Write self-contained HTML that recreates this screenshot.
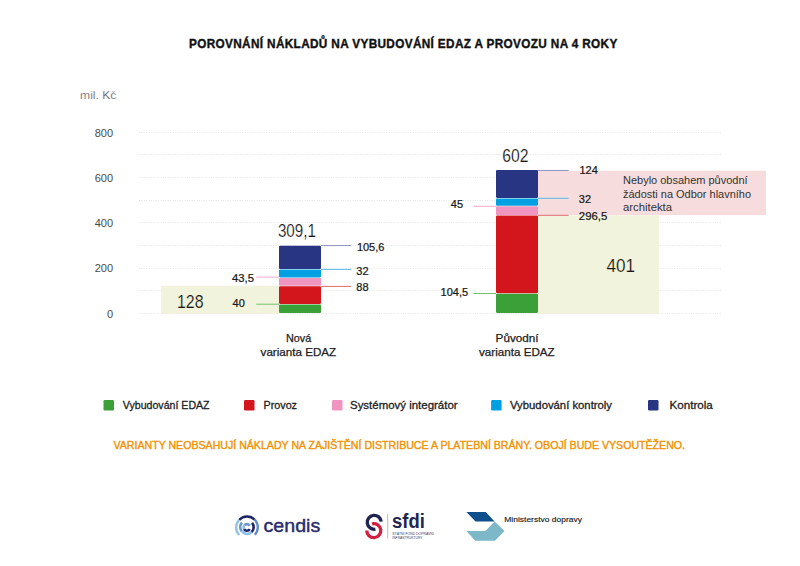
<!DOCTYPE html>
<html lang="cs">
<head>
<meta charset="utf-8">
<title>Porovnání nákladů na vybudování EDAZ a provozu na 4 roky</title>
<style>
html,body{margin:0;padding:0;background:#fff;}
body{width:800px;height:566px;overflow:hidden;}
svg{display:block;}
text{font-family:"Liberation Sans",Arial,sans-serif;}
.b{font-weight:bold;}
</style>
</head>
<body>
<svg width="800" height="566" viewBox="0 0 800 566">
<rect x="0" y="0" width="800" height="566" fill="#fff"/>

<!-- title -->
<text x="189" y="48.0" font-size="13.6" class="b" fill="#111" stroke="#111" stroke-width="0.4" letter-spacing="0.4" textLength="428.6" lengthAdjust="spacingAndGlyphs">POROVNÁNÍ NÁKLADŮ NA VYBUDOVÁNÍ EDAZ A PROVOZU NA 4 ROKY</text>

<!-- unit -->
<text x="80.1" y="98.9" font-size="10.2" fill="#3c3c3c" stroke="#fff" stroke-width="0.25" textLength="36.2" lengthAdjust="spacingAndGlyphs">mil. Kč</text>

<!-- gridlines -->
<g stroke="#e6e6e6" stroke-width="1" stroke-dasharray="1 1.4">
<line x1="139" y1="132.5" x2="721" y2="132.5"/>
<line x1="139" y1="154.5" x2="721" y2="154.5"/>
<line x1="139" y1="177.5" x2="721" y2="177.5"/>
<line x1="139" y1="200.5" x2="721" y2="200.5"/>
<line x1="139" y1="222.5" x2="721" y2="222.5"/>
<line x1="139" y1="245.5" x2="721" y2="245.5"/>
<line x1="139" y1="268.5" x2="721" y2="268.5"/>
<line x1="139" y1="290.5" x2="721" y2="290.5"/>
<line x1="139" y1="313.5" x2="721" y2="313.5"/>
</g>

<!-- y labels -->
<g font-size="11" fill="#4a4a4a" text-anchor="end">
<text x="113" y="136.7">800</text>
<text x="113" y="181.9">600</text>
<text x="113" y="227.1">400</text>
<text x="113" y="272.4">200</text>
<text x="113" y="317.6">0</text>
</g>

<!-- background boxes -->
<rect x="161" y="285.7" width="118" height="28.3" fill="#f1f3dc"/>
<rect x="538" y="215.3" width="121" height="98.7" fill="#f1f3dc"/>
<rect x="538" y="170.7" width="228" height="44.4" fill="#f6dcdc"/>

<!-- bar 1 -->
<g>
<rect x="279" y="245.8" width="42" height="23.3" rx="1.1" fill="#283583"/>
<rect x="279" y="269.6" width="42" height="7.8" rx="1.1" fill="#00a0e3"/>
<rect x="279" y="277.9" width="42" height="7.9" rx="1.1" fill="#ef95c0"/>
<rect x="279" y="286.3" width="42" height="17.6" rx="1.1" fill="#d2161c"/>
<rect x="279" y="304.4" width="42" height="8.7" rx="1.1" fill="#3aa037"/>
</g>
<!-- bar 2 -->
<g>
<rect x="496" y="170" width="42" height="27.9" rx="1.1" fill="#283583"/>
<rect x="496" y="198.4" width="42" height="7.4" rx="1.1" fill="#00a0e3"/>
<rect x="496" y="206.3" width="42" height="8.7" rx="1.1" fill="#ef95c0"/>
<rect x="496" y="215.5" width="42" height="77.7" rx="1.1" fill="#d2161c"/>
<rect x="496" y="293.7" width="42" height="19.2" rx="1.1" fill="#3aa037"/>
</g>

<!-- leader lines -->
<g stroke-width="1">
<line x1="321" y1="245.6" x2="351" y2="245.6" stroke="#8c91c0"/>
<line x1="321" y1="269.4" x2="351" y2="269.4" stroke="#5cbbe9"/>
<line x1="321" y1="286.4" x2="351" y2="286.4" stroke="#e26c6e"/>
<line x1="256.2" y1="277.1" x2="279" y2="277.1" stroke="#f2a9cb"/>
<line x1="256.2" y1="304.2" x2="279" y2="304.2" stroke="#74c171"/>
<line x1="538" y1="170.45" x2="568.6" y2="170.45" stroke="#8c91c0"/>
<line x1="538" y1="198.3" x2="568.6" y2="198.3" stroke="#5cbbe9"/>
<line x1="538" y1="215.3" x2="568.6" y2="215.3" stroke="#e26c6e"/>
<line x1="473.5" y1="206.3" x2="496" y2="206.3" stroke="#f2a9cb"/>
<line x1="473.5" y1="293.5" x2="496" y2="293.5" stroke="#74c171"/>
</g>

<!-- value labels -->
<g font-size="11" fill="#161616" stroke="#161616" stroke-width="0.22">
<text x="356.9" y="250.7" textLength="27.5" lengthAdjust="spacingAndGlyphs">105,6</text>
<text x="356.3" y="274.5">32</text>
<text x="356.3" y="290.8">88</text>
<text x="232" y="282" textLength="21.9" lengthAdjust="spacingAndGlyphs">43,5</text>
<text x="232.6" y="307.4">40</text>
<text x="579.4" y="173.5">124</text>
<text x="578.8" y="202.8">32</text>
<text x="578.8" y="220.1" textLength="28.5" lengthAdjust="spacingAndGlyphs">296,5</text>
<text x="450.8" y="208">45</text>
<text x="440.6" y="296" textLength="27.6" lengthAdjust="spacingAndGlyphs">104,5</text>
</g>

<!-- totals / big numbers -->
<g font-size="17.5" fill="#151515" stroke-width="0.18">
<text x="277.9" y="237" stroke="#fff" textLength="38" lengthAdjust="spacingAndGlyphs">309,1</text>
<text x="502.3" y="161.5" stroke="#fff" textLength="26.2" lengthAdjust="spacingAndGlyphs">602</text>
<text x="177" y="307.9" stroke="#f1f3dc" textLength="26.5" lengthAdjust="spacingAndGlyphs">128</text>
<text x="606.4" y="271.8" stroke="#f1f3dc" textLength="28.6" lengthAdjust="spacingAndGlyphs">401</text>
</g>

<!-- note in pink box -->
<g font-size="10" fill="#333">
<text x="623" y="184" textLength="124.6" lengthAdjust="spacingAndGlyphs">Nebylo obsahem původní</text>
<text x="623" y="197.5" textLength="128" lengthAdjust="spacingAndGlyphs">žádosti na Odbor hlavního</text>
<text x="623" y="210.6" textLength="49" lengthAdjust="spacingAndGlyphs">architekta</text>
</g>

<!-- category labels -->
<g font-size="10.5" fill="#1e1e1e" stroke="#1e1e1e" stroke-width="0.25">
<text x="286" y="341.6" textLength="25.2" lengthAdjust="spacingAndGlyphs">Nová</text>
<text x="260.6" y="356.3" textLength="75.6" lengthAdjust="spacingAndGlyphs">varianta EDAZ</text>
<text x="495.6" y="341.6" textLength="42.9" lengthAdjust="spacingAndGlyphs">Původní</text>
<text x="479" y="356.3" textLength="75.7" lengthAdjust="spacingAndGlyphs">varianta EDAZ</text>
</g>

<!-- legend -->
<g>
<rect x="103.5" y="400" width="10.5" height="10.5" rx="1.2" fill="#3aa037"/>
<rect x="244" y="400" width="10.5" height="10.5" rx="1.2" fill="#d2161c"/>
<rect x="332" y="400" width="10.5" height="10.5" rx="1.2" fill="#ef95c0"/>
<rect x="491.1" y="400" width="10.5" height="10.5" rx="1.2" fill="#00a0e3"/>
<rect x="648" y="400" width="10.5" height="10.5" rx="1.2" fill="#283583"/>
</g>
<g font-size="10.8" fill="#1e1e1e" stroke="#1e1e1e" stroke-width="0.3">
<text x="122.8" y="408.5" textLength="86.8" lengthAdjust="spacingAndGlyphs">Vybudování EDAZ</text>
<text x="263.6" y="408.5" textLength="33.4" lengthAdjust="spacingAndGlyphs">Provoz</text>
<text x="350" y="408.5" textLength="107.6" lengthAdjust="spacingAndGlyphs">Systémový integrátor</text>
<text x="510" y="408.5" textLength="102" lengthAdjust="spacingAndGlyphs">Vybudování kontroly</text>
<text x="669.6" y="408.5" textLength="43.2" lengthAdjust="spacingAndGlyphs">Kontrola</text>
</g>

<!-- orange note -->
<text x="113.5" y="448.7" font-size="11.2" fill="#f39200" stroke="#f39200" stroke-width="0.4" textLength="571.5" lengthAdjust="spacingAndGlyphs">VARIANTY NEOBSAHUJÍ NÁKLADY NA ZAJIŠTĚNÍ DISTRIBUCE A PLATEBNÍ BRÁNY. OBOJÍ BUDE VYSOUTĚŽENO.</text>

<!-- logo: cendis -->
<g fill="none" stroke-linecap="butt">
<path d="M239.17 520.00 A10.7 10.7 0 0 1 254.60 519.60" stroke="#1f2468" stroke-width="2.3"/>
<path d="M239.17 520.00 A10.7 10.7 0 0 0 239.25 535.05" stroke="#8ec1ea" stroke-width="2.3"/>
<path d="M254.60 519.60 A10.7 10.7 0 0 1 254.77 534.68" stroke="#5f8cc8" stroke-width="2.3"/>
<path d="M241.90 522.70 A6.65 6.65 0 0 0 241.55 531.10" stroke="#6b96cc" stroke-width="2.6"/>
<path d="M241.55 531.10 A6.65 6.65 0 0 0 251.70 532.00" stroke="#8ec1ea" stroke-width="2.6"/>
<path d="M251.70 532.00 A6.65 6.65 0 0 0 252.02 522.94" stroke="#1f2468" stroke-width="2.6"/>
<path d="M249.76 525.75 A3.3 3.3 0 0 0 244.37 525.28" stroke="#6b96cc" stroke-width="2.6"/>
<path d="M244.37 525.28 A3.3 3.3 0 0 0 244.04 529.05" stroke="#8ec1ea" stroke-width="2.6"/>
<path d="M244.04 529.05 A3.3 3.3 0 0 0 249.76 529.05" stroke="#1f2468" stroke-width="2.6"/>
</g>
<text x="263.5" y="532.3" font-size="19" fill="#262a6b" stroke="#262a6b" stroke-width="0.4" textLength="56.7" lengthAdjust="spacingAndGlyphs">cendis</text>

<!-- logo: sfdi -->
<g fill="none" stroke-width="3.3">
<path d="M372.1 523.9 A7 7 0 1 1 366.8 530.5" stroke="#d3203f"/>
<path d="M381.2 521.7 A7 7 0 1 0 375.4 529.2" stroke="#20254f"/>
</g>
<line x1="387.7" y1="514" x2="387.7" y2="538.8" stroke="#b9bccf" stroke-width="1"/>
<text x="392.1" y="528.4" font-size="20" class="b" fill="#20254f" textLength="32.7" lengthAdjust="spacingAndGlyphs">sfdi</text>
<g font-size="3.6" fill="#3a3e68">
<text x="392.3" y="535" textLength="41.5" lengthAdjust="spacingAndGlyphs">STÁTNÍ FOND DOPRAVNÍ</text>
<text x="392.3" y="539" textLength="30.2" lengthAdjust="spacingAndGlyphs">INFRASTRUKTURY</text>
</g>

<!-- logo: ministerstvo dopravy -->
<polygon points="466.4,512.1 485.8,512.1 494.6,521.6 475.5,521.6" fill="#0e4f8c"/>
<polygon points="494.6,521.6 504.5,531.1 495,540.7 475.2,540.7 466.4,531.1 485.4,531.1" fill="#7db8c9"/>
<text x="504.3" y="521.5" font-size="7.9" fill="#1a1a1a" stroke="#1a1a1a" stroke-width="0.15" textLength="77.6" lengthAdjust="spacingAndGlyphs">Ministerstvo dopravy</text>
</svg>
</body>
</html>
